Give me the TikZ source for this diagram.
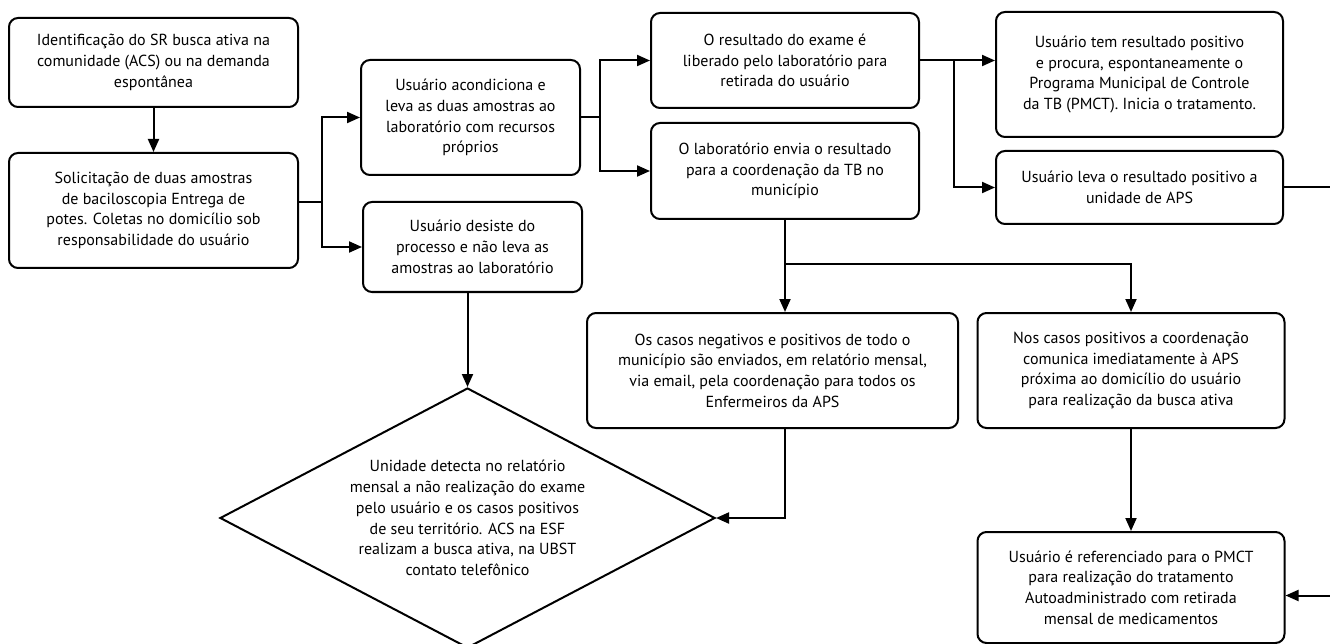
\documentclass[tikz,border=0pt]{standalone}
\usepackage{fontspec}
\setmainfont{PT Sans}
\usetikzlibrary{arrows.meta,shapes.geometric,calc}
\newcommand{\fs}{\fontsize{16}{20.7}\selectfont}
\tikzset{
  box/.style={draw, line width=2pt, rounded corners=9pt, align=center, inner sep=2pt, font=\fs},
  arr/.style={line width=2pt, -{Triangle[length=13pt,width=11pt]}},
  ln/.style={line width=2pt}
}
\begin{document}
\begin{tikzpicture}[x=1pt,y=-1pt]
\useasboundingbox[fill=white] (0,0) rectangle (1330,644);
\node[box, minimum width=289pt, minimum height=89pt] (b1) at (153.5,62.5) {Identificação do SR busca ativa na\\comunidade (ACS) ou na demanda\\espontânea};
\node[box, minimum width=289pt, minimum height=115pt] (b2) at (153.5,210.5) {Solicitação de duas amostras\\de baciloscopia Entrega de\\potes. Coletas no domicílio sob\\responsabilidade do usuário};
\node[box, minimum width=219pt, minimum height=115pt] (b3) at (470.5,117.5) {Usuário acondiciona e\\leva as duas amostras ao\\laboratório com recursos\\próprios};
\node[box, minimum width=219pt, minimum height=90pt] (b4) at (472.5,247) {Usuário desiste do\\processo e não leva as\\amostras ao laboratório};
\node[box, minimum width=268pt, minimum height=95pt] (b5) at (785,60.5) {O resultado do exame é\\liberado pelo laboratório para\\retirada do usuário};
\node[box, minimum width=268pt, minimum height=96pt] (b6) at (785,171) {O laboratório envia o resultado\\para a coordenação da TB no\\município};
\node[box, minimum width=287pt, minimum height=125pt] (b7) at (1139.5,74.5) {Usuário tem resultado positivo\\e procura, espontaneamente o\\Programa Municipal de Controle\\da TB (PMCT). Inicia o tratamento.};
\node[box, minimum width=287pt, minimum height=73pt] (b8) at (1139.5,187.5) {Usuário leva o resultado positivo a\\unidade de APS};
\node[box, minimum width=371pt, minimum height=115pt] (b9) at (772.5,370.5) {Os casos negativos e positivos de todo o\\município são enviados, em relatório mensal,\\via email, pela coordenação para todos os\\Enfermeiros da APS};
\node[box, minimum width=307pt, minimum height=115pt] (b10) at (1131,370.5) {Nos casos positivos a coordenação\\comunica imediatamente à APS\\próxima ao domicílio do usuário\\para realização da busca ativa};
\node[box, minimum width=307pt, minimum height=111pt] (b11) at (1131,587.5) {Usuário é referenciado para o PMCT\\para realização do tratamento\\Autoadministrado com retirada\\mensal de medicamentos};
\node[draw, diamond, shape aspect=1.9, line width=2pt, align=center, inner sep=0pt, font=\fs, minimum width=495pt, minimum height=260pt] (d) at (467.5,518) {Unidade detecta no relatório\\mensal a não realização do exame\\pelo usuário e os casos positivos\\de seu território. ACS na ESF\\realizam a busca ativa, na UBST\\contato telefônico};

\coordinate (j1) at (322,202);
\coordinate (out) at (1365,0);
\draw[arr] (b1) -- (b2);
\draw[ln] (b2.east |- j1) -- (j1);
\draw[arr] (j1) |- (b3.west);
\draw[arr] (j1) |- (b4.west);
\draw[ln] (b3.east) -- ++(19,0) coordinate (j2);
\draw[arr] (j2) |- (b5.west);
\draw[arr] (j2) |- (b6.west);
\draw[ln] (b5.east) -- ++(34,0) coordinate (j3);
\draw[arr] (j3) -- (j3 -| b7.west);
\draw[arr] (j3) |- (b8.west);
\draw[arr] (b8.east) -- (b8.east -| out) |- ([yshift=-8pt]b11.east);
\draw[ln] (b6.south) -- ++(0,44) coordinate (j4);
\draw[arr] (j4) -- (j4 |- b9.north);
\draw[arr] (j4) -| (b10.north);
\draw[arr] (b9.south -| j4) |- (d.east);
\draw[arr] (b10) -- (b11);
\draw[arr] (b4.south -| d.north) -- (d.north);
\end{tikzpicture}
\end{document}
